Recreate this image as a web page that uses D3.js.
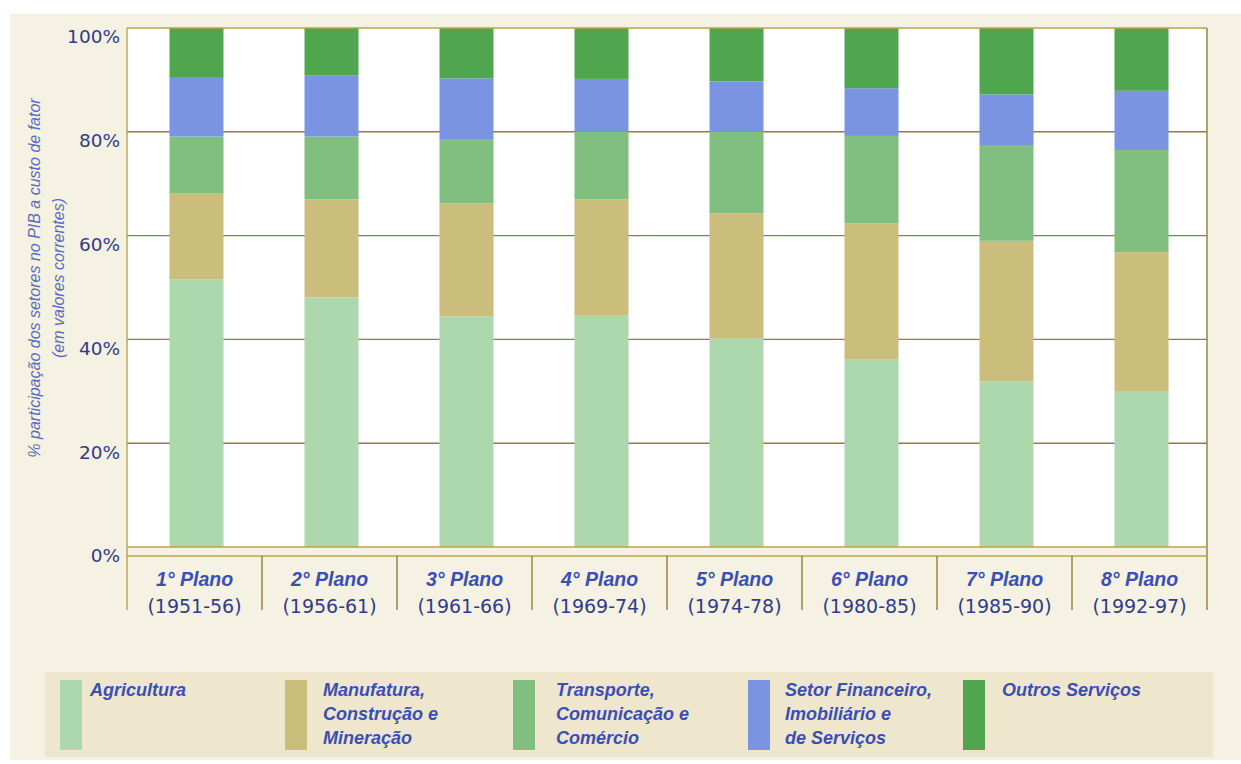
<!DOCTYPE html>
<html>
<head>
<meta charset="utf-8">
<script src="https://cdn.jsdelivr.net/npm/d3@7"></script>
<style>
  html, body { margin: 0; padding: 0; background: #ffffff; }
  svg { display: block; }
</style>
</head>
<body>
<svg id="chart" width="1241" height="764"></svg>
<script>
// ---- data ----
const planos = ["1° Plano", "2° Plano", "3° Plano", "4° Plano", "5° Plano", "6° Plano", "7° Plano", "8° Plano"];
const periodos = ["(1951-56)", "(1956-61)", "(1961-66)", "(1969-74)", "(1974-78)", "(1980-85)", "(1985-90)", "(1992-97)"];
const agricultura = [51.6, 48.1, 44.4, 44.7, 40.2, 36.2, 31.9, 29.9];
const manufatura  = [16.6, 18.9, 21.8, 22.3, 24.1, 26.2, 27.1, 26.9];
const transporte  = [10.9, 12.1, 12.4, 13.0, 15.7, 16.8, 18.3, 19.7];
const financeiro  = [11.3, 11.8, 11.7, 10.2, 9.7, 9.2, 9.9, 11.4];
const outros      = [9.6, 9.1, 9.7, 9.8, 10.3, 11.6, 12.8, 12.1];
const seriesKeys = ["agricultura", "manufatura", "transporte", "financeiro", "outros"];
const seriesLabels = [
  ["Agricultura"],
  ["Manufatura,", "Construção e", "Mineração"],
  ["Transporte,", "Comunicação e", "Comércio"],
  ["Setor Financeiro,", "Imobiliário e", "de Serviços"],
  ["Outros Serviços"]
];
const yTicks = [0, 20, 40, 60, 80, 100];
const yTitle = ["% participação dos setores no PIB a custo de fator", "(em valores correntes)"];

// ---- styles / layout ----
const colors = ["#add8ad", "#cbbd7b", "#80bf80", "#7b94e2", "#4fa64f"];
const legendX = [60, 285, 513, 748, 963];
const legendTextDx = [30, 38, 43, 37, 39];
const W = 1241, H = 764;
const plot = { left: 127, right: 1207, top: 28, bottom: 547 };

const rows = planos.map((p, i) => ({
  plano: p,
  agricultura: agricultura[i], manufatura: manufatura[i], transporte: transporte[i],
  financeiro: financeiro[i], outros: outros[i]
}));

const svg = d3.select("#chart");

// background
svg.append("rect").attr("x", 10).attr("y", 14).attr("width", W - 10).attr("height", 746).attr("fill", "#f5f1e3");

const x = d3.scaleBand().domain(planos).range([plot.left, plot.right]).paddingInner(0.6).paddingOuter(0.3);
const xCell = d3.scaleBand().domain(planos).range([plot.left, plot.right]).padding(0);
const y = d3.scaleLinear().domain([0, 100]).range([plot.bottom, plot.top]);

// plot background
svg.append("rect").attr("x", plot.left).attr("y", plot.top)
  .attr("width", plot.right - plot.left).attr("height", plot.bottom - plot.top).attr("fill", "#ffffff");

// gridlines
svg.append("g").selectAll("line").data(yTicks.filter(d => d > 0 && d < 100)).join("line")
  .attr("x1", plot.left).attr("x2", plot.right)
  .attr("y1", d => y(d)).attr("y2", d => y(d))
  .attr("stroke", "#8f8038").attr("stroke-width", 1.4);

// stacked bars
const stack = d3.stack().keys(seriesKeys)(rows);
svg.append("g").selectAll("g").data(stack).join("g")
  .attr("fill", (d, i) => colors[i])
  .selectAll("rect").data(d => d).join("rect")
  .attr("x", d => x(d.data.plano) + 2)
  .attr("width", x.bandwidth())
  .attr("y", d => y(d[1]))
  .attr("height", d => y(d[0]) - y(d[1]));

// plot frame
svg.append("line").attr("x1", plot.left).attr("x2", plot.right).attr("y1", y(100)).attr("y2", y(100))
  .attr("stroke", "#b8a54a").attr("stroke-width", 1.5);
svg.append("line").attr("x1", plot.right).attr("x2", plot.right).attr("y1", plot.top).attr("y2", 610)
  .attr("stroke", "#8f8038").attr("stroke-width", 1.4);
svg.append("line").attr("x1", plot.left).attr("x2", plot.right).attr("y1", y(0)).attr("y2", y(0))
  .attr("stroke", "#b8a54a").attr("stroke-width", 1.5);
svg.append("line").attr("x1", plot.left).attr("x2", plot.right).attr("y1", 556).attr("y2", 556)
  .attr("stroke", "#b8a54a").attr("stroke-width", 1.5);

// category cell dividers
svg.append("g").selectAll("line").data(planos).join("line")
  .attr("x1", d => xCell(d)).attr("x2", d => xCell(d))
  .attr("y1", d => xCell(d) === plot.left ? plot.top : 556).attr("y2", 610)
  .attr("stroke", d => xCell(d) === plot.left ? "#b8a54a" : "#8f8038")
  .attr("stroke-width", 1.4);

// y axis labels
const yAxis = d3.axisLeft(y).tickValues(yTicks).tickSize(0).tickPadding(7).tickFormat(d => d + "%");
const gy = svg.append("g").attr("transform", `translate(${plot.left},0)`).call(yAxis);
gy.select(".domain").remove();
gy.selectAll("text")
  .attr("dy", "0.32em").attr("transform", "translate(0,9)")
  .attr("font-family", "'DejaVu Sans', sans-serif").attr("font-size", 18.5)
  .attr("fill", "#2f3c8a");

// x labels
const xl = svg.append("g").selectAll("g").data(planos).join("g")
  .attr("transform", d => `translate(${xCell(d) + xCell.bandwidth() / 2},0)`);
xl.append("text").text(d => d)
  .attr("y", 586).attr("text-anchor", "middle")
  .attr("font-family", "'Liberation Sans', Arial, sans-serif").attr("font-size", 19.5)
  .attr("font-weight", "bold").attr("font-style", "italic").attr("fill", "#3a4fb5");
xl.append("text").text((d, i) => periodos[i])
  .attr("y", 613).attr("text-anchor", "middle")
  .attr("font-family", "'DejaVu Sans', sans-serif").attr("font-size", 19)
  .attr("fill", "#2f3c8a");

// y title
const yt = svg.append("text")
  .attr("transform", "translate(0,278) rotate(-90)")
  .attr("text-anchor", "middle")
  .attr("font-family", "'Liberation Sans', Arial, sans-serif").attr("font-size", 16)
  .attr("font-style", "italic").attr("fill", "#5a6bc0");
yt.selectAll("tspan").data(yTitle).join("tspan")
  .attr("x", 0).attr("y", (d, i) => 40 + i * 24).text(d => d);

// legend
svg.append("rect").attr("x", 45).attr("y", 672).attr("width", 1168).attr("height", 85).attr("fill", "#eee6cd");
const lg = svg.append("g").selectAll("g").data(seriesLabels).join("g")
  .attr("transform", (d, i) => `translate(${legendX[i]},0)`);
lg.append("rect").attr("x", 0).attr("y", 680).attr("width", 22).attr("height", 70)
  .attr("fill", (d, i) => colors[i]);
lg.append("text")
  .attr("x", (d, i) => legendTextDx[i])
  .attr("font-family", "'Liberation Sans', Arial, sans-serif").attr("font-size", 18)
  .attr("font-weight", "bold").attr("font-style", "italic").attr("fill", "#3a4fb5")
  .each(function(d, i) {
    d3.select(this).selectAll("tspan").data(d).join("tspan")
      .attr("x", legendTextDx[i])
      .attr("y", (t, j) => 696 + j * 24).text(t => t);
  });
</script>
</body>
</html>
